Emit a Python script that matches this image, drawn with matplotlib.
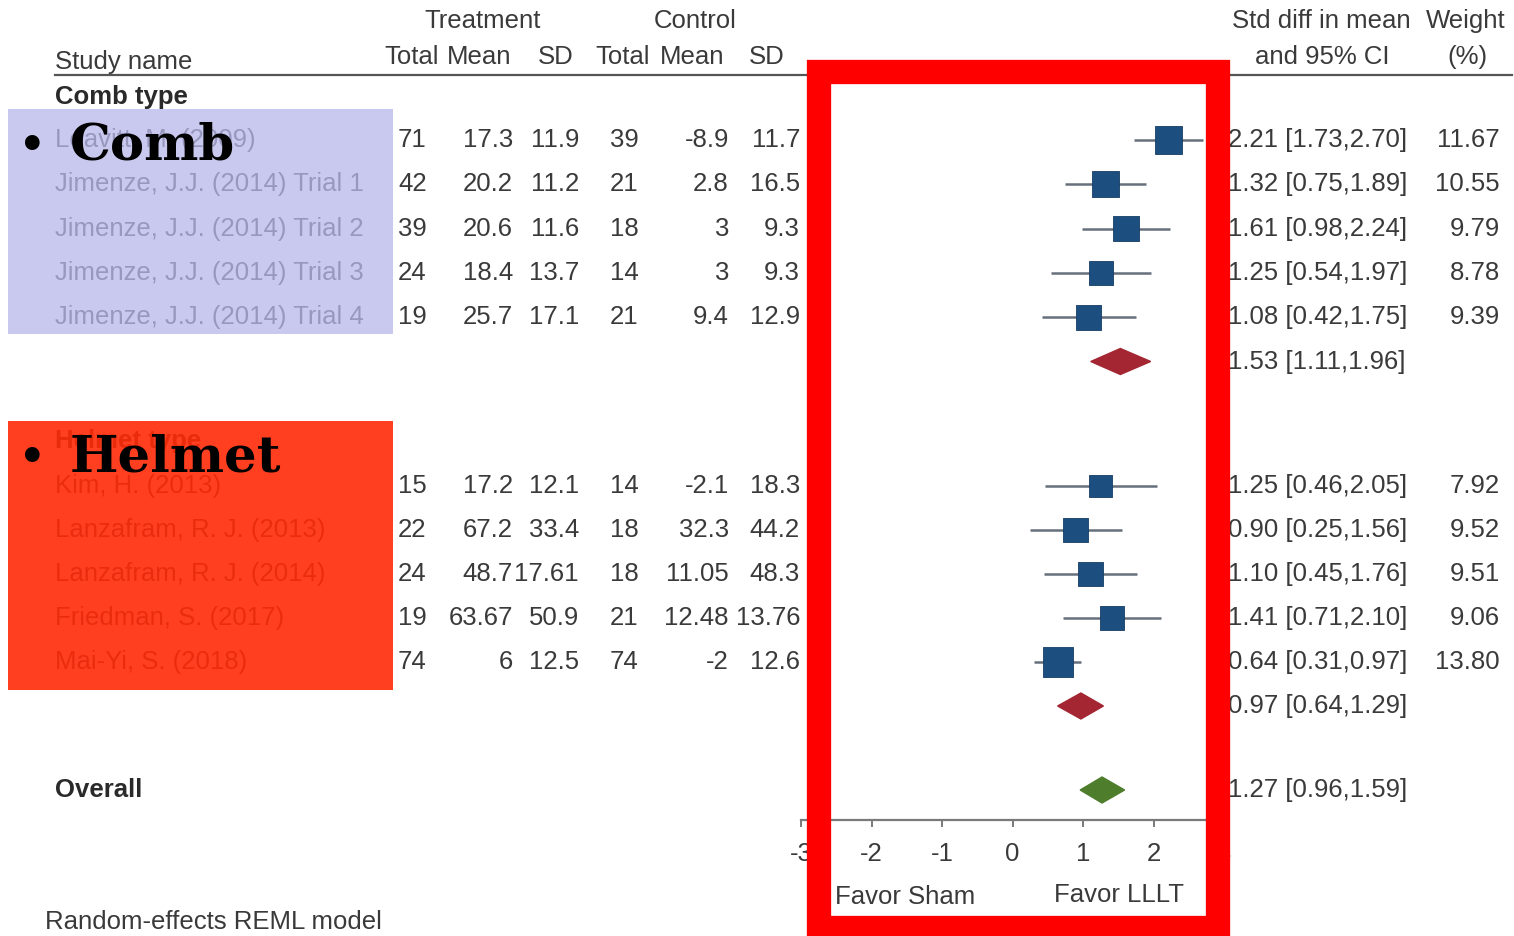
import matplotlib
matplotlib.use('Agg')
import matplotlib.pyplot as plt
from matplotlib.patches import Rectangle, Polygon

plt.rcParams['font.family'] = ['Liberation Sans', 'DejaVu Sans']

# ---------------- data ----------------
comb_names = ["Leavitt, M. (2009)", "Jimenze, J.J. (2014) Trial 1",
              "Jimenze, J.J. (2014) Trial 2", "Jimenze, J.J. (2014) Trial 3",
              "Jimenze, J.J. (2014) Trial 4"]
comb_t_total = ["71", "42", "39", "24", "19"]
comb_t_mean = ["17.3", "20.2", "20.6", "18.4", "25.7"]
comb_t_sd = ["11.9", "11.2", "11.6", "13.7", "17.1"]
comb_c_total = ["39", "21", "18", "14", "21"]
comb_c_mean = ["-8.9", "2.8", "3", "3", "9.4"]
comb_c_sd = ["11.7", "16.5", "9.3", "9.3", "12.9"]
comb_es = [2.21, 1.32, 1.61, 1.25, 1.08]
comb_lo = [1.73, 0.75, 0.98, 0.54, 0.42]
comb_hi = [2.70, 1.89, 2.24, 1.97, 1.75]
comb_w = [11.67, 10.55, 9.79, 8.78, 9.39]
comb_sub = [1.53, 1.11, 1.96]

helm_names = ["Kim, H. (2013)", "Lanzafram, R. J. (2013)", "Lanzafram, R. J. (2014)",
              "Friedman, S. (2017)", "Mai-Yi, S. (2018)"]
helm_t_total = ["15", "22", "24", "19", "74"]
helm_t_mean = ["17.2", "67.2", "48.7", "63.67", "6"]
helm_t_sd = ["12.1", "33.4", "17.61", "50.9", "12.5"]
helm_c_total = ["14", "18", "18", "21", "74"]
helm_c_mean = ["-2.1", "32.3", "11.05", "12.48", "-2"]
helm_c_sd = ["18.3", "44.2", "48.3", "13.76", "12.6"]
helm_es = [1.25, 0.90, 1.10, 1.41, 0.64]
helm_lo = [0.46, 0.25, 0.45, 0.71, 0.31]
helm_hi = [2.05, 1.56, 1.76, 2.10, 0.97]
helm_w = [7.92, 9.52, 9.51, 9.06, 13.80]
helm_sub = [0.97, 0.64, 1.29]

overall = [1.27, 0.96, 1.59]
x_ticks = [-3, -2, -1, 0, 1, 2, 3]

# ---------------- layout (pixel rows) ----------------
W, H = 1514, 936
comb_y = [140 + i * 44.3 for i in range(6)]
helm_y = [486 + i * 44.0 for i in range(6)]
overall_y = 790

fig = plt.figure(figsize=(W / 100, H / 100), dpi=100)
fig.patch.set_facecolor('white')

# forest axes: x from -3..3 mapped to px 801..1224, bottom spine at px 820
fx = fig.add_axes([801 / W, (H - 820) / H, 423 / W, 820 / H])
fx.set_xlim(-3, 3)
fx.set_ylim(820, 0)
fx.patch.set_alpha(0)
for s in ['top', 'left', 'right']:
    fx.spines[s].set_visible(False)
fx.spines['bottom'].set_color('#7a7a7a')
fx.spines['bottom'].set_linewidth(1.6)
fx.set_yticks([])
fx.set_xticks(x_ticks)
fx.set_xticklabels([str(t) for t in x_ticks])
fx.tick_params(axis='x', direction='out', length=5, width=1.4, color='#7a7a7a',
               labelsize=18.5, labelcolor='#3a3a3a', pad=11)

sq_color = '#1d4e80'
ci_color = '#66707c'


def draw_group(es, lo, hi, w, ys):
    fx.hlines(ys, lo, hi, color=ci_color, lw=1.8, zorder=2)
    sides = [30 * (wi / 13.8) ** 0.5 * 0.72 for wi in w]
    fx.scatter(es, ys, s=[sd ** 2 for sd in sides], marker='s', color=sq_color,
               edgecolor='#163d66', linewidth=0.6, zorder=3)


def diamond(vals, y, color):
    es, lo, hi = vals
    fx.add_patch(Polygon([[lo, y], [es, y - 13], [hi, y], [es, y + 13]],
                         closed=True, facecolor=color, edgecolor=color, zorder=3))


draw_group(comb_es, comb_lo, comb_hi, comb_w, comb_y[:5])
diamond(comb_sub, comb_y[5], '#a32632')
draw_group(helm_es, helm_lo, helm_hi, helm_w, helm_y[:5])
diamond(helm_sub, helm_y[5], '#a32632')
diamond(overall, overall_y, '#4e7d2c')

# text axes covering the whole figure, in pixel coordinates
tx = fig.add_axes([0, 0, 1, 1])
tx.set_xlim(0, W)
tx.set_ylim(H, 0)
tx.axis('off')
tx.patch.set_alpha(0)
tx.set_zorder(5)

TC = '#3a3a3a'
FS = 18.5


def t(x, y, s, ha='left', color=TC, weight='normal', size=FS, z=2):
    tx.text(x, y, s, ha=ha, va='center', color=color, fontsize=size,
            fontweight=weight, zorder=z)


# headers
t(483, 21, "Treatment", ha='center')
t(695, 21, "Control", ha='center')
t(55, 62, "Study name")
for xc, lab in zip([412, 479, 556, 623, 692, 767],
                   ["Total", "Mean", "SD", "Total", "Mean", "SD"]):
    t(xc, 57, lab, ha='center')
t(1321, 21, "Std diff in mean", ha='center')
t(1322, 57, "and 95% CI", ha='center')
t(1466, 21, "Weight", ha='center')
t(1467, 57, "(%)", ha='center')
tx.plot([55, 1512], [75, 75], color='#555555', lw=1.6, zorder=1)

t(55, 97, "Comb type", weight='bold', color='#2a2a2a')


def rows(names, tt, tm, tsd, ct, cm, csd, es, lo, hi, w, ys, name_color):
    for i in range(5):
        y = ys[i]
        t(55, y, names[i], color=name_color)
        t(398, y, tt[i])
        t(513, y, tm[i], ha='right')
        t(579, y, tsd[i], ha='right')
        t(610, y, ct[i])
        t(729, y, cm[i], ha='right')
        t(800, y, csd[i], ha='right')
        t(1228, y, f"{es[i]:.2f} [{lo[i]:.2f},{hi[i]:.2f}]")
        t(1500, y, f"{w[i]:.2f}", ha='right')


rows(comb_names, comb_t_total, comb_t_mean, comb_t_sd, comb_c_total, comb_c_mean,
     comb_c_sd, comb_es, comb_lo, comb_hi, comb_w, comb_y, TC)
t(1228, comb_y[5], f"{comb_sub[0]:.2f} [{comb_sub[1]:.2f},{comb_sub[2]:.2f}]")

t(55, 441, "Helmet type", weight='bold', color='#2a2a2a')
rows(helm_names, helm_t_total, helm_t_mean, helm_t_sd, helm_c_total, helm_c_mean,
     helm_c_sd, helm_es, helm_lo, helm_hi, helm_w, helm_y, TC)
t(1228, helm_y[5], f"{helm_sub[0]:.2f} [{helm_sub[1]:.2f},{helm_sub[2]:.2f}]")

t(55, overall_y, "Overall", weight='bold', color='#2a2a2a')
t(1228, overall_y, f"{overall[0]:.2f} [{overall[1]:.2f},{overall[2]:.2f}]")

t(905, 897, "Favor Sham", ha='center')
t(1119, 895, "Favor LLLT", ha='center')
t(45, 922, "Random-effects REML model")

# overlay boxes (semi-transparent so the text faintly shows through)
tx.add_patch(Rectangle((8, 109), 385, 225, facecolor='#b8b8ec', alpha=0.75,
                       edgecolor='none', zorder=10))
tx.add_patch(Rectangle((8, 421), 385, 269, facecolor='#ff2a08', alpha=0.9,
                       edgecolor='none', zorder=10))
for yb, lab in [(146, "Comb"), (458, "Helmet")]:
    tx.text(32, yb, "\u2022", ha='center', va='center', fontsize=30,
            fontweight='bold', family='DejaVu Serif', color='black', zorder=11)
    tx.text(70, yb, lab, ha='left', va='center', fontsize=37,
            fontweight='heavy', family='DejaVu Serif', color='black', zorder=11)

# red frame
tx.add_patch(Rectangle((819, 72), 399, 856, facecolor='none', edgecolor='#ff0000',
                       lw=17.5, zorder=12, joinstyle='miter'))

fig.savefig('out.png', dpi=100, facecolor='white')
